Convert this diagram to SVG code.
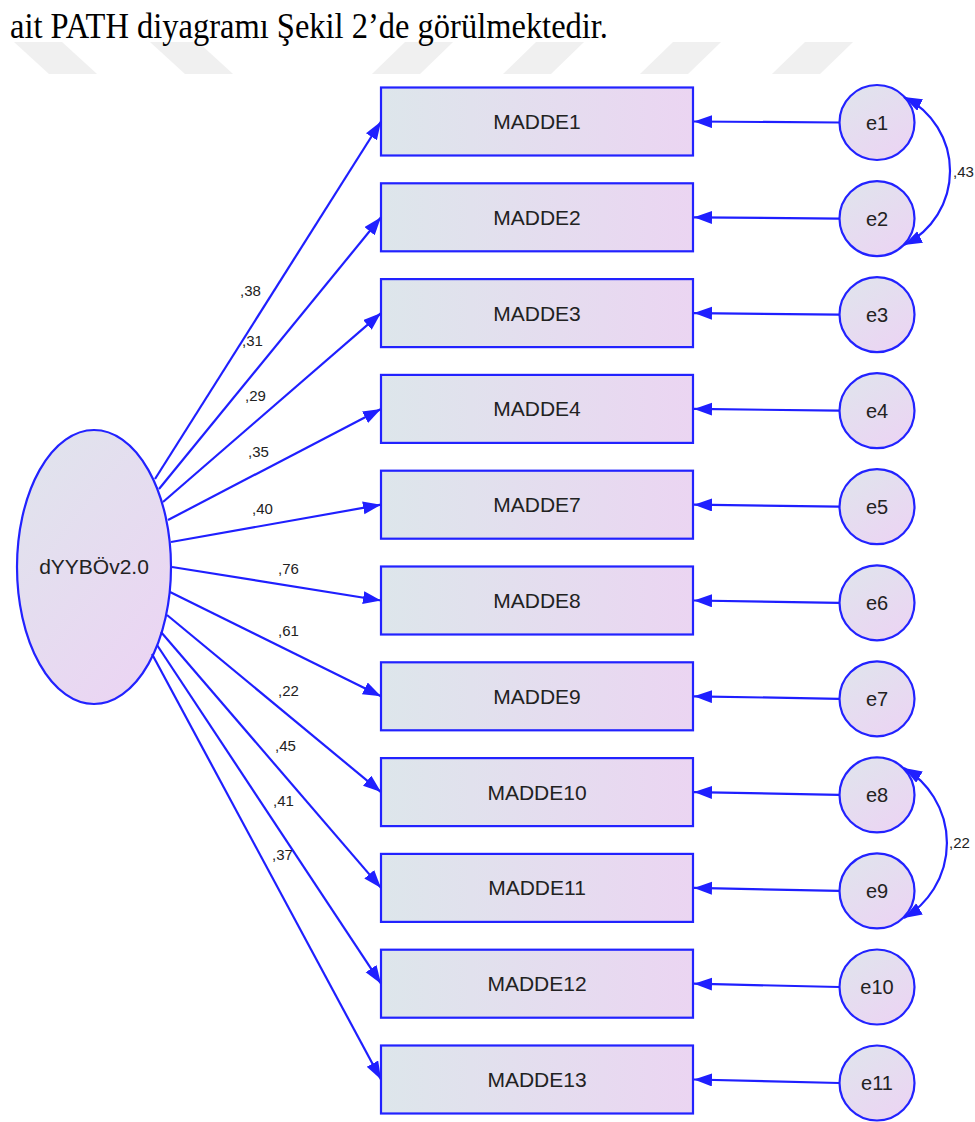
<svg xmlns="http://www.w3.org/2000/svg" width="975" height="1122" viewBox="0 0 975 1122">
<defs>
<linearGradient id="gBox" x1="0" y1="0" x2="1" y2="0">
<stop offset="0" stop-color="#dde6eb"/>
<stop offset="1" stop-color="#ebd5f2"/>
</linearGradient>
<linearGradient id="gRound" x1="0" y1="0" x2="0.7" y2="1">
<stop offset="0" stop-color="#dfe5ec"/>
<stop offset="1" stop-color="#ebd5f3"/>
</linearGradient>
<marker id="ah" markerUnits="userSpaceOnUse" markerWidth="20" markerHeight="14" refX="18" refY="6.5" orient="auto-start-reverse">
<path d="M0,0 L18,6.5 L0,13 Z" fill="#1f1fff"/>
</marker>
<style>
.box{fill:url(#gBox);stroke:#2222ff;stroke-width:2.2}
.rnd{fill:url(#gRound);stroke:#2222ff;stroke-width:2.2}
.lbl{font-family:"Liberation Sans",Arial,sans-serif;font-size:21px;fill:#222;text-anchor:middle}
.elb{font-family:"Liberation Sans",Arial,sans-serif;font-size:20px;fill:#222;text-anchor:middle}
.wt{font-family:"Liberation Sans",Arial,sans-serif;font-size:15px;fill:#222}
.con{fill:none;stroke:#1f1fff;stroke-width:2.2;marker-end:url(#ah)}
.cov{fill:none;stroke:#1f1fff;stroke-width:2.2;marker-start:url(#ah);marker-end:url(#ah)}
.wm{fill:#f0f0f0}
</style>
</defs>
<rect width="975" height="1122" fill="#ffffff"/>
<g id="watermark">
<polygon class="wm" points="14,42 62,42 97,74 49,74"/>
<polygon class="wm" points="150,42 198,42 233,74 185,74"/>
<polygon class="wm" points="405,42 453,42 420,74 372,74"/>
<polygon class="wm" points="536,42 584,42 551,74 503,74"/>
<polygon class="wm" points="673,42 721,42 688,74 640,74"/>
<polygon class="wm" points="805,42 853,42 820,74 772,74"/>
</g>
<text id="caption" x="10" y="38" font-family="'Liberation Serif','Times New Roman',serif" font-size="36" fill="#000" textLength="598" lengthAdjust="spacingAndGlyphs">ait PATH diyagramı Şekil 2’de görülmektedir.</text>

<g id="latent"><ellipse class="rnd" cx="94" cy="567" rx="77" ry="137"/><text class="lbl" x="94" y="574">dYYBÖv2.0</text></g>

<g id="MADDE1"><rect class="box" x="381" y="87.5" width="312" height="68"/><text class="lbl" x="537" y="129">MADDE1</text></g>
<g id="MADDE2"><rect class="box" x="381" y="183.3" width="312" height="68"/><text class="lbl" x="537" y="224.8">MADDE2</text></g>
<g id="MADDE3"><rect class="box" x="381" y="279.1" width="312" height="68"/><text class="lbl" x="537" y="320.6">MADDE3</text></g>
<g id="MADDE4"><rect class="box" x="381" y="374.9" width="312" height="68"/><text class="lbl" x="537" y="416.4">MADDE4</text></g>
<g id="MADDE7"><rect class="box" x="381" y="470.7" width="312" height="68"/><text class="lbl" x="537" y="512.2">MADDE7</text></g>
<g id="MADDE8"><rect class="box" x="381" y="566.5" width="312" height="68"/><text class="lbl" x="537" y="608">MADDE8</text></g>
<g id="MADDE9"><rect class="box" x="381" y="662.3" width="312" height="68"/><text class="lbl" x="537" y="703.8">MADDE9</text></g>
<g id="MADDE10"><rect class="box" x="381" y="758.1" width="312" height="68"/><text class="lbl" x="537" y="799.6">MADDE10</text></g>
<g id="MADDE11"><rect class="box" x="381" y="853.9" width="312" height="68"/><text class="lbl" x="537" y="895.4">MADDE11</text></g>
<g id="MADDE12"><rect class="box" x="381" y="949.7" width="312" height="68"/><text class="lbl" x="537" y="991.2">MADDE12</text></g>
<g id="MADDE13"><rect class="box" x="381" y="1045.5" width="312" height="68"/><text class="lbl" x="537" y="1087">MADDE13</text></g>

<g id="e1"><circle class="rnd" cx="877" cy="122.5" r="37.5"/><text class="elb" x="877" y="129.5">e1</text></g>
<g id="e2"><circle class="rnd" cx="877" cy="218.6" r="37.5"/><text class="elb" x="877" y="225.6">e2</text></g>
<g id="e3"><circle class="rnd" cx="877" cy="314.6" r="37.5"/><text class="elb" x="877" y="321.6">e3</text></g>
<g id="e4"><circle class="rnd" cx="877" cy="410.7" r="37.5"/><text class="elb" x="877" y="417.7">e4</text></g>
<g id="e5"><circle class="rnd" cx="877" cy="506.7" r="37.5"/><text class="elb" x="877" y="513.7">e5</text></g>
<g id="e6"><circle class="rnd" cx="877" cy="602.8" r="37.5"/><text class="elb" x="877" y="609.8">e6</text></g>
<g id="e7"><circle class="rnd" cx="877" cy="698.8" r="37.5"/><text class="elb" x="877" y="705.8">e7</text></g>
<g id="e8"><circle class="rnd" cx="877" cy="794.9" r="37.5"/><text class="elb" x="877" y="801.9">e8</text></g>
<g id="e9"><circle class="rnd" cx="877" cy="890.9" r="37.5"/><text class="elb" x="877" y="897.9">e9</text></g>
<g id="e10"><circle class="rnd" cx="877" cy="987" r="37.5"/><text class="elb" x="877" y="994">e10</text></g>
<g id="e11"><circle class="rnd" cx="877" cy="1083" r="37.5"/><text class="elb" x="877" y="1090">e11</text></g>

<g id="connectors">
<path class="con" d="M155,479 L381,121.5"/>
<path class="con" d="M159,489 L381,217.3"/>
<path class="con" d="M163,502 L381,313.1"/>
<path class="con" d="M168,520 L381,408.9"/>
<path class="con" d="M171,542 L381,504.7"/>
<path class="con" d="M172,567 L381,600.5"/>
<path class="con" d="M170,592 L381,696.3"/>
<path class="con" d="M167,615 L381,792.1"/>
<path class="con" d="M161,632 L381,887.9"/>
<path class="con" d="M157,645 L381,983.7"/>
<path class="con" d="M152,654 L381,1079.5"/>

<path class="con" d="M839,122.5 L694,121.5"/>
<path class="con" d="M839,218.6 L694,217.3"/>
<path class="con" d="M839,314.6 L694,313.1"/>
<path class="con" d="M839,410.7 L694,408.9"/>
<path class="con" d="M839,506.7 L694,504.7"/>
<path class="con" d="M839,602.8 L694,600.5"/>
<path class="con" d="M839,698.8 L694,696.3"/>
<path class="con" d="M839,794.9 L694,792.1"/>
<path class="con" d="M839,890.9 L694,887.9"/>
<path class="con" d="M839,987 L694,983.7"/>
<path class="con" d="M839,1083 L694,1079.5"/>

<path class="cov" d="M904,97 A82.5,82.5 0 0 1 904,245"/>
<path class="cov" d="M904,768 A87,87 0 0 1 904,918"/>

<text class="wt" x="240" y="296">,38</text>
<text class="wt" x="242" y="346">,31</text>
<text class="wt" x="245" y="401">,29</text>
<text class="wt" x="248" y="457">,35</text>
<text class="wt" x="252" y="514">,40</text>
<text class="wt" x="278" y="574">,76</text>
<text class="wt" x="278" y="636">,61</text>
<text class="wt" x="278" y="696">,22</text>
<text class="wt" x="275" y="751">,45</text>
<text class="wt" x="273" y="806">,41</text>
<text class="wt" x="272" y="860">,37</text>
<text class="wt" x="953" y="177">,43</text>
<text class="wt" x="949" y="848">,22</text>
</g>
</svg>
